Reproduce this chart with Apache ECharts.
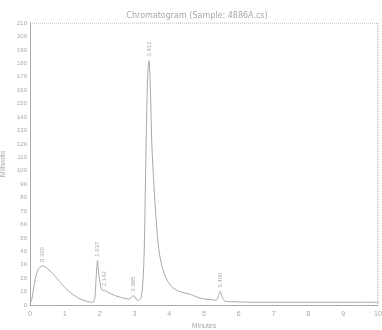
<!DOCTYPE html>
<html>
<head>
<meta charset="utf-8">
<script src="https://cdn.jsdelivr.net/npm/echarts@6/dist/echarts.min.js"></script>
<style>
  html, body { margin: 0; padding: 0; background: #fff; }
  #chart { width: 382px; height: 330px; }
</style>
</head>
<body>
<div id="chart"></div>
<script>
const times = [0, 0.05, 0.1, 0.15, 0.2, 0.25, 0.3, 0.36, 0.45, 0.55, 0.7, 0.85, 1.0, 1.2, 1.4, 1.6, 1.8,
  1.86, 1.9, 1.94, 1.98, 2.03, 2.08, 2.14, 2.2, 2.35, 2.5, 2.7, 2.85, 2.92, 2.98, 3.05, 3.12, 3.2,
  3.27, 3.33, 3.38, 3.42, 3.46, 3.5, 3.56, 3.62, 3.7, 3.8, 3.95, 4.1, 4.3, 4.6, 4.9, 5.2, 5.35,
  5.42, 5.47, 5.52, 5.6, 5.8, 6.5, 7.5, 8.5, 9.5, 10]
const signal = [1, 4, 12, 19, 24, 27, 28.5, 29, 28, 26, 22, 17.5, 13, 8.5, 5, 3, 2,
  5, 20, 33, 22, 14, 11, 11, 10, 8, 6.5, 5, 4.5, 6, 7, 4.5, 3.5, 6,
  30, 110, 170, 182, 160, 120, 90, 65, 42, 28, 18, 13, 10, 8, 5, 4, 3.5,
  7, 10, 6, 3, 2.5, 2, 2, 2, 2, 2]
const peakTimes = [0.36, 1.94, 2.14, 2.98, 3.42, 5.47]
const peakHeights = [29, 33, 11, 7, 182, 10]
const peakLabels = ["0.360", "1.937", "2.142", "2.985", "3.412", "5.460"]

const chart = echarts.init(document.getElementById("chart"))
const grey = "#a8a8a8"

chart.setOption({
  backgroundColor: "#fff",
  animation: false,
  title: {
    text: "Chromatogram (Sample: 4886A.cs)",
    left: 192,
    textAlign: "center",
    top: 7,
    textStyle: { fontSize: 8, fontWeight: "normal", color: grey, fontFamily: "DejaVu Sans" },
  },
  grid: { left: 30, right: 4, top: 23, bottom: 25, outerBoundsMode: "none" },
  xAxis: {
    type: "value",
    min: 0,
    max: 10,
    interval: 1,
    name: "Minutes",
    nameLocation: "middle",
    nameGap: 15,
    nameTextStyle: { fontSize: 7, color: grey },
    axisLine: { lineStyle: { color: grey } },
    axisTick: { show: false },
    splitLine: { show: false },
    axisLabel: { fontSize: 7, color: grey, margin: 6 },
  },
  yAxis: {
    type: "value",
    min: 0,
    max: 210,
    interval: 10,
    name: "Millivolts",
    nameLocation: "middle",
    nameGap: 20,
    nameTextStyle: { fontSize: 7, color: grey },
    axisLine: { show: true, lineStyle: { color: grey } },
    axisTick: { show: false },
    splitLine: { show: false },
    axisLabel: { fontSize: 6, color: grey, margin: 3 },
  },
  series: [
    {
      type: "line",
      data: times.map((t, i) => [t, signal[i]]),
      showSymbol: false,
      smooth: 0.3,
      lineStyle: { color: grey, width: 1 },
      markPoint: {
        symbol: "circle",
        symbolSize: 0,
        data: peakTimes.map((t, i) => ({
          coord: [t, peakHeights[i]],
          value: peakLabels[i],
        })),
        label: {
          show: true,
          rotate: 90,
          position: "top",
          align: "left",
          verticalAlign: "middle",
          distance: 4,
          fontSize: 6,
          color: grey,
          formatter: "{c}",
        },
      },
    },
    {
      // top and right frame
      type: "line",
      data: [[0, 210], [10, 210], [10, 0]],
      showSymbol: false,
      silent: true,
      lineStyle: { color: grey, width: 1, type: "dotted" },
    },
  ],
})
</script>
</body>
</html>
